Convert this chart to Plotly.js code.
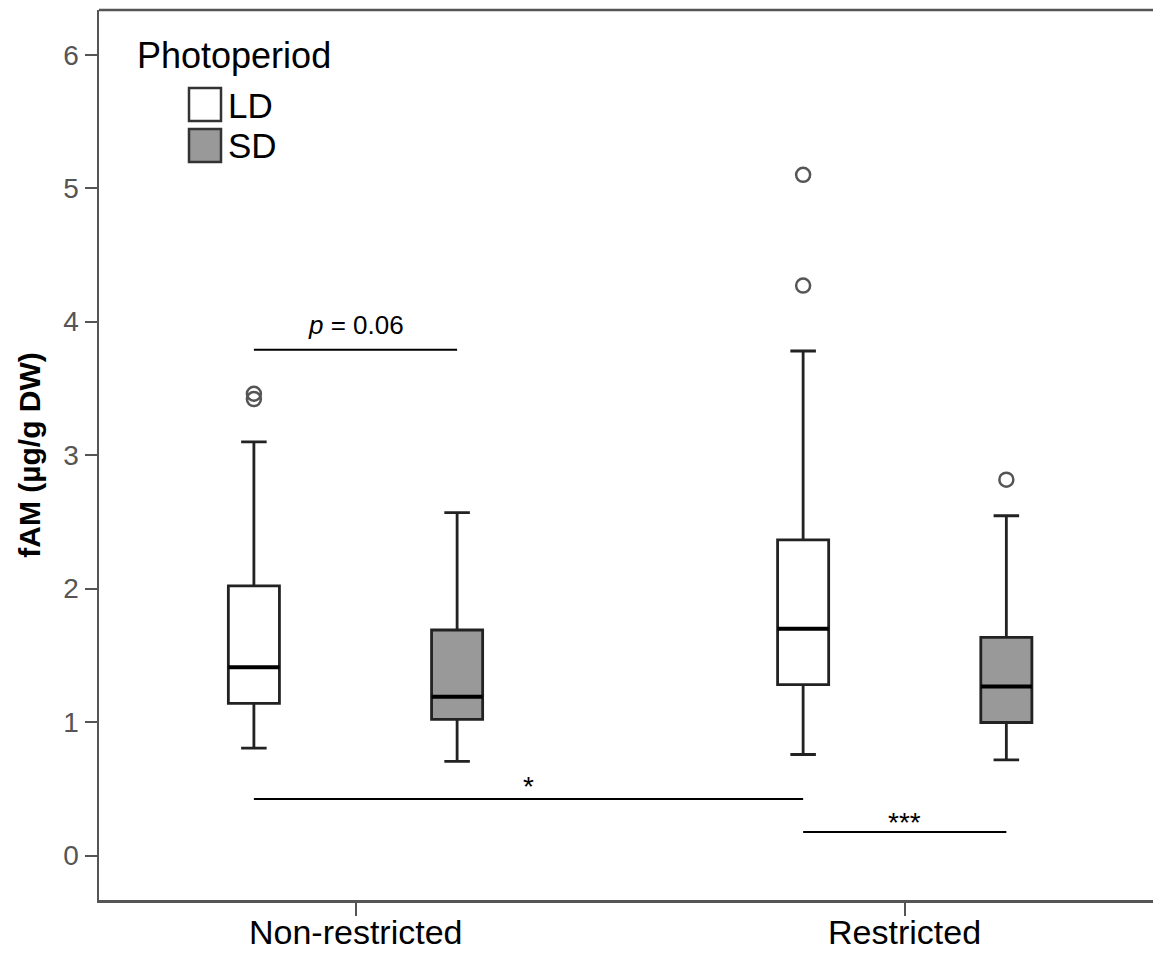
<!DOCTYPE html>
<html>
<head>
<meta charset="utf-8">
<script src="https://cdn.plot.ly/plotly-3.0.1.min.js"></script>
<style>html,body{margin:0;padding:0;background:#fff;}#chart{width:1153px;height:953px;}</style>
</head>
<body>
<div id="chart"></div>
<script>
// ---- data ----
const categories = ['Non-restricted', 'Restricted'];
const seriesNames = ['LD', 'SD'];
const legendTitle = 'Photoperiod';
const yTitle = 'fAM (µg/g DW)';

// per series, one value per category
const LD_lower  = [0.805, 0.757];
const LD_q1     = [1.14, 1.28];
const LD_median = [1.41, 1.70];
const LD_q3     = [2.02, 2.365];
const LD_upper  = [3.10, 3.78];
const LD_outliers = [[3.46, 3.42], [5.10, 4.27]];

const SD_lower  = [0.705, 0.717];
const SD_q1     = [1.02, 0.997];
const SD_median = [1.19, 1.267];
const SD_q3     = [1.69, 1.634];
const SD_upper  = [2.57, 2.546];
const SD_outliers = [[], [2.816]];

const yTicks = [0, 1, 2, 3, 4, 5, 6];

// significance brackets
const bracketLabels = ['<i>p</i> = 0.06', '*', '***'];
const bracketHeights = [3.79, 0.424, 0.177];
// [category, series] for each bracket end
const bracketFrom = [[0, 0], [0, 0], [1, 0]];
const bracketTo   = [[0, 1], [1, 0], [1, 1]];

// ---- styling / layout ----
const fills = ['#ffffff', '#999999'];
const groupOffset = 0.185;
const boxWidth = 0.093;
const FONT = 'Liberation Sans, Arial, sans-serif';

function pos(ci, si) { return ci + (si === 0 ? -groupOffset : groupOffset); }

const stats = [
  {lower: LD_lower, q1: LD_q1, med: LD_median, q3: LD_q3, upper: LD_upper, out: LD_outliers},
  {lower: SD_lower, q1: SD_q1, med: SD_median, q3: SD_q3, upper: SD_upper, out: SD_outliers}
];

const traces = [];
stats.forEach((s, si) => {
  categories.forEach((c, ci) => {
    const x = pos(ci, si);
    traces.push({
      type: 'box', name: seriesNames[si] + ' ' + c,
      x: [x], q1: [s.q1[ci]], median: [s.med[ci]], q3: [s.q3[ci]],
      lowerfence: [s.lower[ci]], upperfence: [s.upper[ci]],
      width: boxWidth, whiskerwidth: 0.5,
      fillcolor: fills[si],
      line: {color: '#222', width: 2.8},
      boxpoints: false, showlegend: false, hoverinfo: 'skip'
    });
    // thicker median line
    traces.push({
      type: 'scatter', mode: 'lines', showlegend: false, hoverinfo: 'skip',
      x: [x - boxWidth / 2, x + boxWidth / 2], y: [s.med[ci], s.med[ci]],
      line: {color: '#000', width: 4}
    });
    if (s.out[ci].length) {
      traces.push({
        type: 'scatter', mode: 'markers', showlegend: false, hoverinfo: 'skip',
        x: s.out[ci].map(() => x), y: s.out[ci],
        marker: {symbol: 'circle-open', size: 14, color: '#555', line: {width: 2.5, color: '#555'}}
      });
    }
  });
});

const shapes = [];
const annotations = [];
// top frame line
shapes.push({type: 'line', xref: 'paper', yref: 'paper', x0: 0, x1: 1, y0: 1, y1: 1,
  line: {color: '#555', width: 2.5}});

bracketLabels.forEach((lab, i) => {
  const x0 = pos(bracketFrom[i][0], bracketFrom[i][1]);
  const x1 = pos(bracketTo[i][0], bracketTo[i][1]);
  const y = bracketHeights[i];
  shapes.push({type: 'line', xref: 'x', yref: 'y', x0: x0, x1: x1, y0: y, y1: y,
    line: {color: '#000', width: 2}});
  const isStar = lab.indexOf('*') === 0;
  annotations.push({xref: 'x', yref: 'y', x: (x0 + x1) / 2, y: y, text: lab, showarrow: false,
    yanchor: 'middle', yshift: isStar ? (lab.length === 1 ? 12 : 9) : 25,
    font: {family: FONT, size: isStar ? 28 : 26, color: '#000'}});
});

const W = 1054, H = 890, L = 99, T = 10, B = 953 - T - H;
function px(x) { return (x - L) / W; }
function py(y) { return (T + H - y) / H; }

// category labels under the axis (placed so they stay inside the page)
categories.forEach((c, ci) => {
  annotations.push({xref: 'x', yref: 'paper', x: ci, y: -B / H, yanchor: 'bottom', xanchor: 'center',
    text: c, showarrow: false, font: {family: FONT, size: 34, color: '#000'}});
});

// legend (manual, to match large swatches)
annotations.push({xref: 'paper', yref: 'paper', x: px(135), y: py(56), xanchor: 'left', yanchor: 'middle',
  text: legendTitle, showarrow: false, font: {family: FONT, size: 36, color: '#000'}});
const swTop = [88, 129];
seriesNames.forEach((n, si) => {
  shapes.push({type: 'rect', xref: 'paper', yref: 'paper', x0: px(189), x1: px(221),
    y0: py(swTop[si] + 33), y1: py(swTop[si]), fillcolor: fills[si], line: {color: '#333', width: 2.5}});
  annotations.push({xref: 'paper', yref: 'paper', x: px(226), y: py(swTop[si] + 17), xanchor: 'left', yanchor: 'middle',
    text: n, showarrow: false, font: {family: FONT, size: 35, color: '#000'}});
});

const layout = {
  width: 1153, height: 953,
  margin: {l: L, r: 0, t: T, b: B, pad: 0},
  paper_bgcolor: '#fff', plot_bgcolor: '#fff',
  showlegend: false,
  xaxis: {
    range: [-0.467, 1.452], tickvals: categories.map((c, i) => i), ticktext: categories,
    showticklabels: false,
    showgrid: false, zeroline: false, showline: true, linecolor: '#555', linewidth: 2.5,
    ticks: 'outside', ticklen: 13, tickwidth: 2, tickcolor: '#555'
  },
  yaxis: {
    range: [-0.333, 6.335], tickvals: yTicks,
    showgrid: false, zeroline: false, showline: true, linecolor: '#555', linewidth: 2.5,
    ticks: 'outside', ticklen: 12, tickwidth: 2, tickcolor: '#555',
    tickfont: {family: FONT, size: 28, color: '#555'},
    title: {text: '<b>' + yTitle + '</b>', font: {family: FONT, size: 30, color: '#000'}, standoff: 14}
  },
  shapes: shapes,
  annotations: annotations
};

Plotly.newPlot('chart', traces, layout, {displayModeBar: false, staticPlot: true});
</script>
</body>
</html>
